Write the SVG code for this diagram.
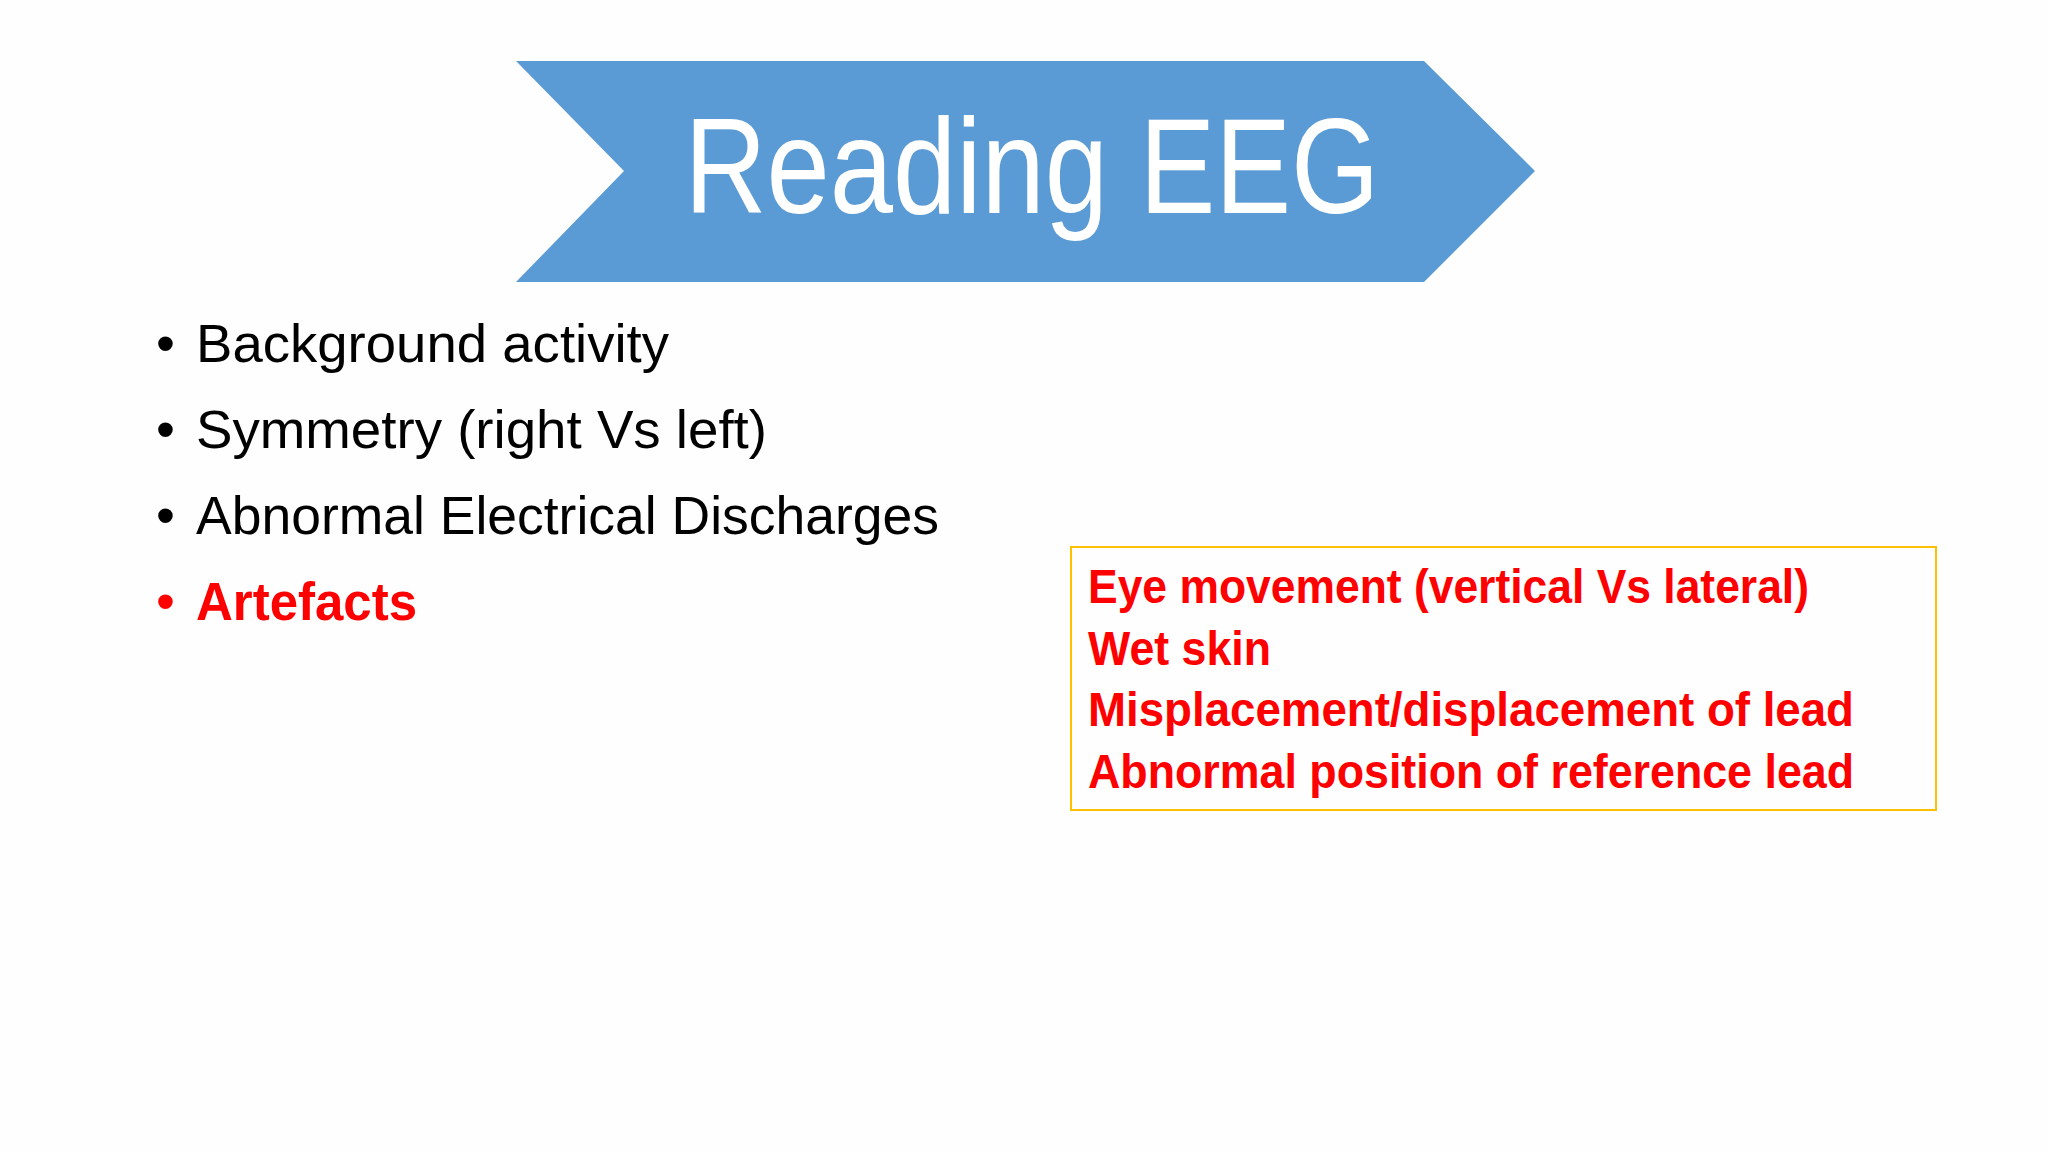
<svg xmlns="http://www.w3.org/2000/svg" width="2048" height="1152" viewBox="0 0 2048 1152">
<style>
.b{font-family:"Liberation Sans",Arial,sans-serif;font-size:54px;fill:#000}
.r{font-family:"Liberation Sans",Arial,sans-serif;font-size:48px;font-weight:bold;fill:#FF0000}
</style>
<rect width="2048" height="1152" fill="#FEFEFE"/>
<g id="title">
<polygon points="516,61 1424,61 1535,171 1424,282 516,282 624,171" fill="#5B9BD5"/>
<text x="1032" y="213" text-anchor="middle" font-family="Liberation Sans,Arial,sans-serif" font-size="136" fill="#fff" textLength="695" lengthAdjust="spacingAndGlyphs">Reading EEG</text>
</g>
<g id="bullets">
<text class="b" x="156" y="362">•</text><text class="b" x="196" y="362" textLength="473" lengthAdjust="spacingAndGlyphs">Background activity</text>
<text class="b" x="156" y="448">•</text><text class="b" x="196" y="448" textLength="571" lengthAdjust="spacingAndGlyphs">Symmetry (right Vs left)</text>
<text class="b" x="156" y="534">•</text><text class="b" x="196" y="534" textLength="743" lengthAdjust="spacingAndGlyphs">Abnormal Electrical Discharges</text>
<text class="b" x="156" y="620" style="fill:#FF0000">•</text><text class="b" x="196" y="620" style="fill:#FF0000;font-weight:bold" textLength="221" lengthAdjust="spacingAndGlyphs">Artefacts</text>
</g>
<g id="box">
<rect x="1071" y="547" width="865" height="263" fill="none" stroke="#FFC000" stroke-width="2"/>
<text class="r" x="1088" y="603" textLength="721" lengthAdjust="spacingAndGlyphs">Eye movement (vertical Vs lateral)</text>
<text class="r" x="1088" y="665" textLength="183" lengthAdjust="spacingAndGlyphs">Wet skin</text>
<text class="r" x="1088" y="726" textLength="766" lengthAdjust="spacingAndGlyphs">Misplacement/displacement of lead</text>
<text class="r" x="1088" y="788" textLength="766" lengthAdjust="spacingAndGlyphs">Abnormal position of reference lead</text>
</g>
</svg>
